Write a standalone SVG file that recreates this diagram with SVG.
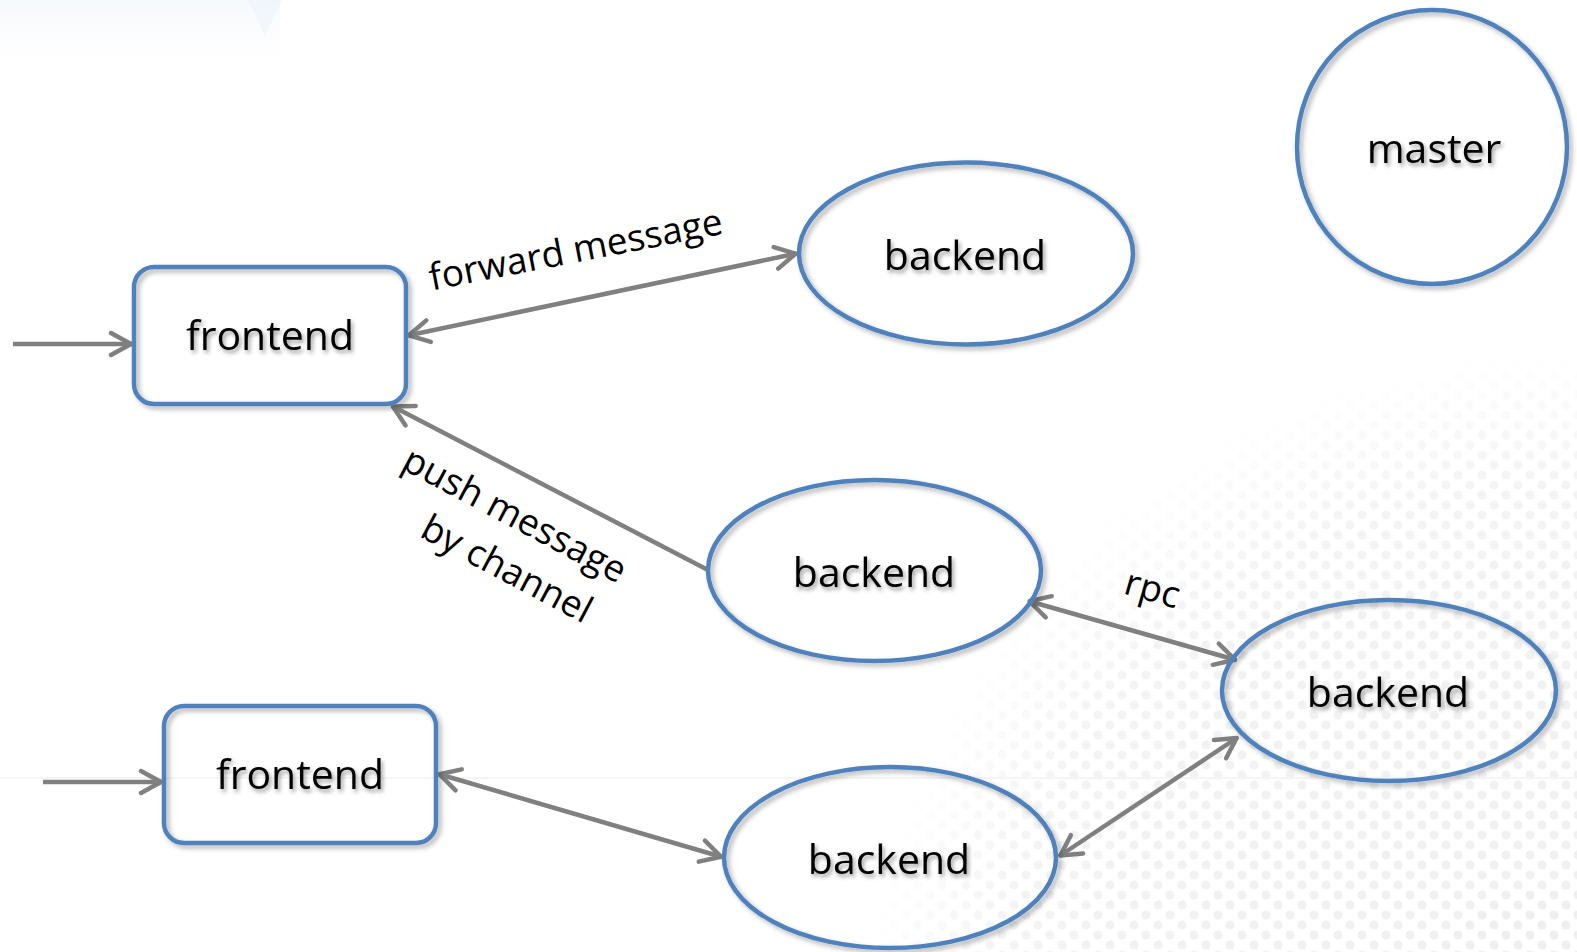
<svg xmlns="http://www.w3.org/2000/svg" width="1577" height="952" viewBox="0 0 1577 952">
<style>
.shape{fill:none;stroke:#4f81bd;stroke-width:4.5}
.nl{font-family:"Open Sans","Noto Sans",sans-serif;font-size:41px;fill:#000;text-anchor:middle}
.el{font-family:"Open Sans","Noto Sans",sans-serif;font-size:37px;fill:#000;text-anchor:middle}
.conn{fill:none;stroke:#808080;stroke-width:4.5}
</style>
<defs>
<filter id="sh" x="-10%" y="-10%" width="130%" height="130%">
<feDropShadow dx="3" dy="3" stdDeviation="2.5" flood-color="#000" flood-opacity="0.3"/>
</filter>
<filter id="tsh" x="-10%" y="-30%" width="130%" height="170%">
<feDropShadow dx="2" dy="3" stdDeviation="2" flood-color="#000" flood-opacity="0.4"/>
</filter>
<marker id="arr" viewBox="-25 -14 30 28" refX="0" refY="0" markerWidth="30" markerHeight="28" markerUnits="userSpaceOnUse" orient="auto-start-reverse">
<path d="M-21,-11 L-1,0 L-21,11" fill="none" stroke="#808080" stroke-width="4.5" stroke-linecap="round" stroke-linejoin="round"/>
</marker>
<pattern id="dots" width="24" height="20" patternUnits="userSpaceOnUse">
<circle cx="6" cy="5" r="4.5" fill="#eeeeee"/>
<circle cx="18" cy="15" r="4.5" fill="#eeeeee"/>
</pattern>
<radialGradient id="fade" cx="1560" cy="1050" r="700" gradientUnits="userSpaceOnUse">
<stop offset="0" stop-color="#fff" stop-opacity="1"/>
<stop offset="0.8" stop-color="#fff" stop-opacity="0.7"/>
<stop offset="1" stop-color="#fff" stop-opacity="0"/>
</radialGradient>
<mask id="globeMask">
<circle cx="1560" cy="1050" r="700" fill="url(#fade)"/>
</mask>
<linearGradient id="tl" x1="0" y1="0" x2="0" y2="1">
<stop offset="0" stop-color="#e3eef8" stop-opacity="0.6"/>
<stop offset="1" stop-color="#e3eef8" stop-opacity="0"/>
</linearGradient>
</defs>
<rect width="1577" height="952" fill="#fff"/>
<g id="background">
<rect x="0" y="0" width="280" height="60" fill="url(#tl)" opacity="0.5"/>
<polygon points="248,0 282,0 265,36" fill="#e8f1fa" opacity="0.45"/>
<rect x="820" y="330" width="757" height="622" fill="url(#dots)" mask="url(#globeMask)"/>
<line x1="0" y1="778" x2="1577" y2="778" stroke="#f5f5f5" stroke-width="2"/>
</g>
<g id="connectors">
<path class="conn" d="M13,344 L132,344" marker-end="url(#arr)"/>
<path class="conn" d="M43,782 L162,782" marker-end="url(#arr)"/>
<path class="conn" d="M408,335.5 L796.5,253.5" marker-start="url(#arr)" marker-end="url(#arr)"/>
<path class="conn" d="M708,570 L392,406" marker-end="url(#arr)"/>
<path class="conn" d="M1028.5,601 L1236,660" marker-start="url(#arr)" marker-end="url(#arr)"/>
<path class="conn" d="M1059.5,856 L1237.5,737.5" marker-start="url(#arr)" marker-end="url(#arr)"/>
<path class="conn" d="M438.5,774 L722,857" marker-start="url(#arr)" marker-end="url(#arr)"/>
<text class="el" transform="translate(578,262) rotate(-11)">forward message</text>
<text class="el" transform="translate(509,526) rotate(28)">push message</text>
<text class="el" transform="translate(501,580) rotate(28)">by channel</text>
<text class="el" transform="translate(1149,601) rotate(16)">rpc</text>
</g>
<g id="frontend1">
<rect class="shape" x="134" y="267" width="272" height="137" rx="20" filter="url(#sh)"/>
<text class="nl" x="270" y="350" filter="url(#tsh)">frontend</text>
</g>
<g id="frontend2">
<rect class="shape" x="164" y="706" width="272" height="137" rx="20" filter="url(#sh)"/>
<text class="nl" x="300" y="789" filter="url(#tsh)">frontend</text>
</g>
<g id="master">
<ellipse class="shape" cx="1432" cy="147" rx="135" ry="137" filter="url(#sh)"/>
<text class="nl" x="1434" y="163" filter="url(#tsh)">master</text>
</g>
<g id="backend1">
<ellipse class="shape" cx="966" cy="253.5" rx="167" ry="91" filter="url(#sh)"/>
<text class="nl" x="965" y="270" filter="url(#tsh)">backend</text>
</g>
<g id="backend2">
<ellipse class="shape" cx="874.5" cy="570.5" rx="166.5" ry="90.5" filter="url(#sh)"/>
<text class="nl" x="874" y="587" filter="url(#tsh)">backend</text>
</g>
<g id="backend3">
<ellipse class="shape" cx="1389" cy="690.5" rx="167" ry="90.5" filter="url(#sh)"/>
<text class="nl" x="1388" y="707" filter="url(#tsh)">backend</text>
</g>
<g id="backend4">
<ellipse class="shape" cx="890" cy="857.5" rx="166" ry="90.5" filter="url(#sh)"/>
<text class="nl" x="889" y="874" filter="url(#tsh)">backend</text>
</g>
</svg>
